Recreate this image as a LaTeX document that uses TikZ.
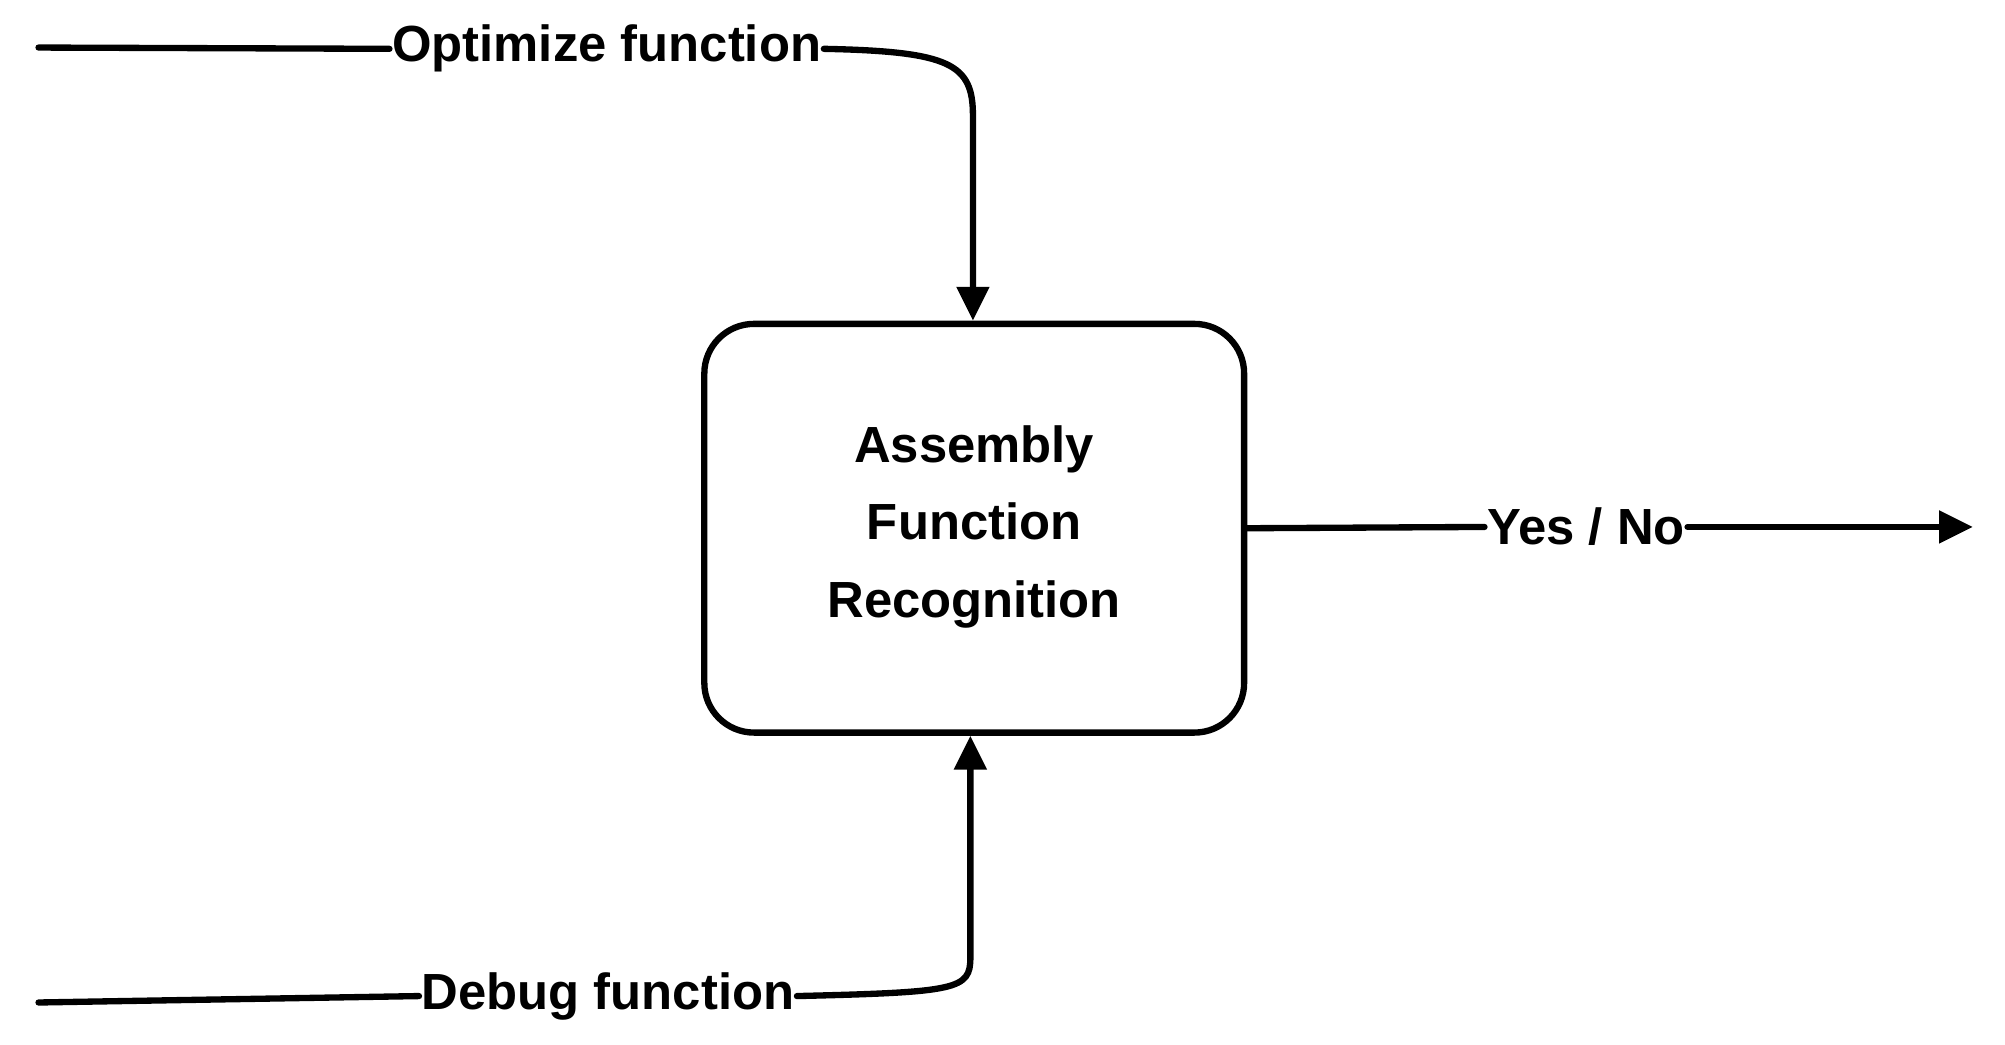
\documentclass[tikz,border=0pt]{standalone}
\usepackage{fontspec}
\setmainfont{Liberation Sans}
\usetikzlibrary{arrows.meta}
\begin{document}
\begin{tikzpicture}[x=0.02cm,y=-0.02cm,
  lbl/.style={font=\fontsize{22.5}{26}\selectfont\bfseries, inner sep=1pt},
  ln/.style={line width=2.8pt, line cap=round, line join=round},
  arr/.style={ln, -{Triangle[length=15pt,width=14pt]}}]
\useasboundingbox (0,0) rectangle (1560,813);
\node[ln, draw, rounded corners=22pt, minimum width=420*0.02cm, minimum height=318*0.02cm] (box) at (758,411) {};
\node[lbl, align=center, font=\fontsize{22.5}{34.5}\selectfont\bfseries] (t) at (758,410) {Assembly\\Function\\Recognition};
\node[lbl, anchor=west] (opt) at (303,38) {Optimize function};
\node[lbl, anchor=west] (dbg) at (326,775) {Debug function};
\node[lbl, anchor=west] (yn) at (1155,410) {Yes / No};
\coordinate (s1) at (30,37);
\coordinate (s2) at (30,780);
\coordinate (e3) at (1535,410);
\draw[ln] (s1) -- (opt.west);
\draw[arr] (opt.east) .. controls (740,40) and (757,50) .. (757,90) -- (box.north -| 757,0);
\draw[ln] (s2) -- (dbg.west);
\draw[arr] (dbg.east) .. controls (745,772) and (755,770) .. (755,745) -- (box.south -| 755,0);
\draw[ln] (box.east) -- (yn.west);
\draw[arr] (yn.east) -- (e3);
\end{tikzpicture}
\end{document}
